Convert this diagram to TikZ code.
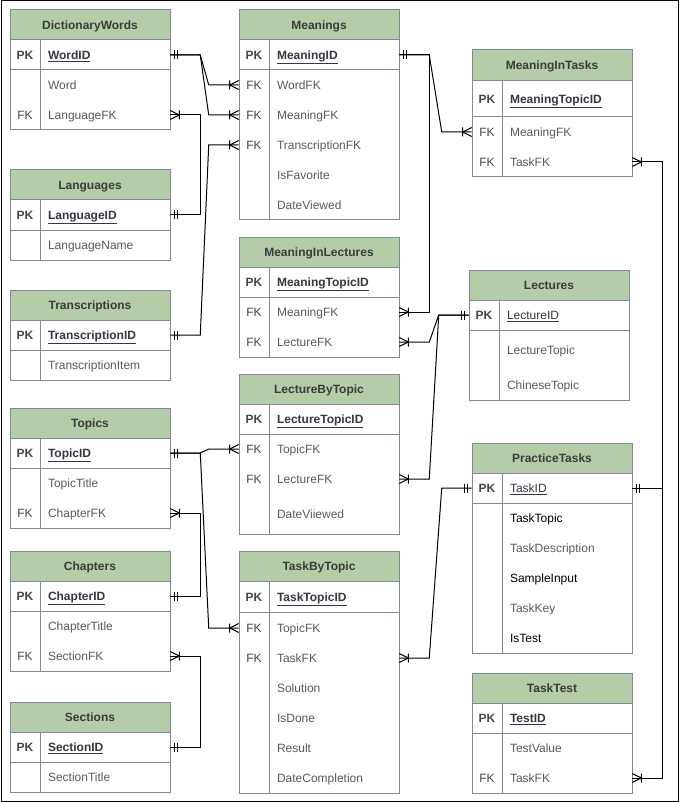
\documentclass[tikz,border=0pt]{standalone}
\usepackage{fontspec}
\setmainfont{Liberation Sans}
\usetikzlibrary{calc}
\definecolor{hdrfill}{RGB}{180,204,168}
\definecolor{tblline}{RGB}{125,138,152}
\definecolor{hdrc}{RGB}{60,60,60}
\definecolor{keyc}{RGB}{70,70,70}
\definecolor{namec}{RGB}{55,55,65}
\definecolor{fieldc}{RGB}{90,90,90}
\tikzset{
  tbl/.style={draw=tblline, line width=0.75pt},
  hdrtxt/.style={font=\fontsize{9}{11}\selectfont\bfseries, text=hdrc, inner sep=0pt, text height=6.5pt, text depth=0pt},
  fld/.style={minimum width=120pt, minimum height=22.5pt, text width=120pt, inner sep=0pt, align=left, font=\fontsize{9}{11}\selectfont, text=fieldc, text height=6.5pt, text depth=0pt},
  conn/.style={draw=black, line width=0.75pt},
  crowE/.pic={\draw[conn] (0,-4.5) -- (9,0) -- (0,4.5) (9,-4.5) -- (9,4.5);},
  crowW/.pic={\draw[conn] (0,-4.5) -- (-9,0) -- (0,4.5) (-9,-4.5) -- (-9,4.5);},
  barsE/.pic={\draw[conn] (4,-4.5) -- (4,4.5) (7,-4.5) -- (7,4.5);},
  barsW/.pic={\draw[conn] (-4,-4.5) -- (-4,4.5) (-7,-4.5) -- (-7,4.5);}
}
% #1 name, #2 left x, #3 top, #4 header bottom, #5 bottom, #6 title
\newcommand\ertable[6]{%
  \fill[hdrfill] (#2,#3) rectangle (#2+160,#4);
  \draw[tbl] (#2,#3) rectangle (#2+160,#5);
  \draw[tbl] (#2,#4) -- (#2+160,#4);
  \draw[tbl] (#2+30,#4) -- (#2+30,#5);
  \node[hdrtxt] (#1) at (#2+80,{(#3+#4)/2}) {#6};
}
\newcommand\erdiv[2]{\draw[tbl] (#1,#2) -- (#1+160,#2);}
% #1 node name, #2 left x, #3 center y, #4 text
\newcommand\pkrow[4]{\node[fld] (#1) at (#2+80,#3) {\makebox[22.5pt]{\textcolor{keyc}{\bfseries PK}}\hspace{6pt}\textcolor{namec}{\bfseries\underline{#4}}};}
\newcommand\pkrowL[4]{\node[fld] (#1) at (#2+80,#3) {\makebox[22.5pt]{\textcolor{keyc}{\bfseries PK}}\hspace{6pt}\textcolor{namec}{\underline{#4}}};}
\newcommand\fkrow[4]{\node[fld] (#1) at (#2+80,#3) {\makebox[22.5pt]{\textcolor{keyc}{FK}}\hspace{6pt}#4};}
\newcommand\plainrow[4]{\node[fld] (#1) at (#2+80,#3) {\makebox[22.5pt]{}\hspace{6pt}#4};}
\newcommand\blackrow[4]{\node[fld] (#1) at (#2+80,#3) {\makebox[22.5pt]{}\hspace{6pt}\textcolor{black}{#4}};}
\begin{document}
\begin{tikzpicture}[x=0.75pt,y=-0.75pt]
\useasboundingbox (0,0) rectangle (679,802);
\fill[white] (0,0) rectangle (679,802);
\draw[black, line width=0.75pt] (1,1) rectangle (678,801);

% ---------- left column ----------
\ertable{dw}{10}{10}{40}{130}{DictionaryWords}
\erdiv{10}{70}
\pkrow{dwWordID}{10}{55}{WordID}
\plainrow{dwWord}{10}{85}{Word}
\fkrow{dwLanguageFK}{10}{115}{LanguageFK}

\ertable{lg}{10}{170}{200}{260}{Languages}
\erdiv{10}{230}
\pkrow{lgLanguageID}{10}{215}{LanguageID}
\plainrow{lgLanguageName}{10}{245}{LanguageName}

\ertable{tr}{10}{290}{320}{380}{Transcriptions}
\erdiv{10}{350}
\pkrow{trTranscriptionID}{10}{335}{TranscriptionID}
\plainrow{trTranscriptionItem}{10}{365}{TranscriptionItem}

\ertable{tp}{10}{408}{438}{528}{Topics}
\erdiv{10}{468}
\pkrow{tpTopicID}{10}{453}{TopicID}
\plainrow{tpTopicTitle}{10}{483}{TopicTitle}
\fkrow{tpChapterFK}{10}{513}{ChapterFK}

\ertable{ch}{10}{551}{581}{671}{Chapters}
\erdiv{10}{611}
\pkrow{chChapterID}{10}{596}{ChapterID}
\plainrow{chChapterTitle}{10}{626}{ChapterTitle}
\fkrow{chSectionFK}{10}{656}{SectionFK}

\ertable{sc}{10}{702}{732}{792}{Sections}
\erdiv{10}{762}
\pkrow{scSectionID}{10}{747}{SectionID}
\plainrow{scSectionTitle}{10}{777}{SectionTitle}

% ---------- middle column ----------
\ertable{mn}{239}{10}{40}{220}{Meanings}
\erdiv{239}{70}
\pkrow{mnMeaningID}{239}{55}{MeaningID}
\fkrow{mnWordFK}{239}{85}{WordFK}
\fkrow{mnMeaningFK}{239}{115}{MeaningFK}
\fkrow{mnTranscriptionFK}{239}{145}{TranscriptionFK}
\plainrow{mnIsFavorite}{239}{175}{IsFavorite}
\plainrow{mnDateViewed}{239}{205}{DateViewed}

\ertable{ml}{239}{237}{267}{357}{MeaningInLectures}
\erdiv{239}{297}
\pkrow{mlMeaningTopicID}{239}{282}{MeaningTopicID}
\fkrow{mlMeaningFK}{239}{312}{MeaningFK}
\fkrow{mlLectureFK}{239}{342}{LectureFK}

\ertable{lb}{239}{374}{404}{534}{LectureByTopic}
\erdiv{239}{434}
\pkrow{lbLectureTopicID}{239}{419}{LectureTopicID}
\fkrow{lbTopicFK}{239}{449}{TopicFK}
\fkrow{lbLectureFK}{239}{479}{LectureFK}
\plainrow{lbDateViiewed}{239}{514}{DateViiewed}

\ertable{tt}{239}{551}{581}{793}{TaskByTopic}
\erdiv{239}{612}
\pkrow{ttTaskTopicID}{239}{597}{TaskTopicID}
\fkrow{ttTopicFK}{239}{628}{TopicFK}
\fkrow{ttTaskFK}{239}{658}{TaskFK}
\plainrow{ttSolution}{239}{688}{Solution}
\plainrow{ttIsDone}{239}{718}{IsDone}
\plainrow{ttResult}{239}{748}{Result}
\plainrow{ttDateCompletion}{239}{778}{DateCompletion}

% ---------- right column ----------
\ertable{mt}{472}{50}{81}{177}{MeaningInTasks}
\erdiv{472}{117}
\pkrow{mtMeaningTopicID}{472}{99}{MeaningTopicID}
\fkrow{mtMeaningFK}{472}{132}{MeaningFK}
\fkrow{mtTaskFK}{472}{162}{TaskFK}

\ertable{le}{469}{270}{300}{400}{Lectures}
\erdiv{469}{330}
\pkrowL{leLectureID}{469}{315}{LectureID}
\plainrow{leLectureTopic}{469}{350}{LectureTopic}
\plainrow{leChineseTopic}{469}{385}{ChineseTopic}

\ertable{pt}{472}{443}{473}{653}{PracticeTasks}
\erdiv{472}{503}
\pkrowL{ptTaskID}{472}{488}{TaskID}
\blackrow{ptTaskTopic}{472}{518}{TaskTopic}
\plainrow{ptTaskDescription}{472}{548}{TaskDescription}
\blackrow{ptSampleInput}{472}{578}{SampleInput}
\plainrow{ptTaskKey}{472}{608}{TaskKey}
\blackrow{ptIsTest}{472}{638}{IsTest}

\ertable{ts}{472}{673}{703}{793}{TaskTest}
\erdiv{472}{733}
\pkrow{tsTestID}{472}{718}{TestID}
\plainrow{tsTestValue}{472}{748}{TestValue}
\fkrow{tsTaskFK}{472}{778}{TaskFK}

% ---------- connectors ----------
\draw[conn] (dwWordID.east) -- ++(30,0) -- ($(mnWordFK.west)+(-30,0)$) -- (mnWordFK.west);
\draw[conn] (dwWordID.east) -- ++(30,0) -- ($(mnMeaningFK.west)+(-30,0)$) -- (mnMeaningFK.west);
\draw[conn] (lgLanguageID.east) -- ++(30,0) |- (dwLanguageFK.east);
\draw[conn] (trTranscriptionID.east) -- ++(30,0) -- ($(mnTranscriptionFK.west)+(-30,0)$) -- (mnTranscriptionFK.west);
\draw[conn] (mnMeaningID.east) -- ++(30,0) -- ($(mtMeaningFK.west)+(-30,0)$) -- (mtMeaningFK.west);
\draw[conn] (mnMeaningID.east) -- ++(30,0) |- (mlMeaningFK.east);
\draw[conn] (leLectureID.west) -- ++(-30,0) -- ($(mlLectureFK.east)+(30,0)$) -- (mlLectureFK.east);
\draw[conn] (leLectureID.west) -- ++(-30,0) -- ($(lbLectureFK.east)+(30,0)$) -- (lbLectureFK.east);
\draw[conn] (tpTopicID.east) -- ++(30,0) -- ($(lbTopicFK.west)+(-30,0)$) -- (lbTopicFK.west);
\draw[conn] (tpTopicID.east) -- ++(30,0) -- ($(ttTopicFK.west)+(-30,0)$) -- (ttTopicFK.west);
\draw[conn] (chChapterID.east) -- ++(30,0) |- (tpChapterFK.east);
\draw[conn] (scSectionID.east) -- ++(30,0) |- (chSectionFK.east);
\draw[conn] (ptTaskID.west) -- ++(-30,0) -- ($(ttTaskFK.east)+(30,0)$) -- (ttTaskFK.east);
\draw[conn] (ptTaskID.east) -- ++(30,0) |- (mtTaskFK.east);
\draw[conn] (ptTaskID.east) -- ++(30,0) |- (tsTaskFK.east);

% ---------- end marks ----------
\path (dwWordID.east) pic {barsE};
\path (lgLanguageID.east) pic {barsE};
\path (trTranscriptionID.east) pic {barsE};
\path (mnMeaningID.east) pic {barsE};
\path (tpTopicID.east) pic {barsE};
\path (chChapterID.east) pic {barsE};
\path (scSectionID.east) pic {barsE};
\path (ptTaskID.east) pic {barsE};
\path (leLectureID.west) pic {barsW};
\path (ptTaskID.west) pic {barsW};

\path (mnWordFK.west) pic {crowW};
\path (mnMeaningFK.west) pic {crowW};
\path (mnTranscriptionFK.west) pic {crowW};
\path (mtMeaningFK.west) pic {crowW};
\path (lbTopicFK.west) pic {crowW};
\path (ttTopicFK.west) pic {crowW};
\path (dwLanguageFK.east) pic {crowE};
\path (mlMeaningFK.east) pic {crowE};
\path (mlLectureFK.east) pic {crowE};
\path (lbLectureFK.east) pic {crowE};
\path (tpChapterFK.east) pic {crowE};
\path (chSectionFK.east) pic {crowE};
\path (ttTaskFK.east) pic {crowE};
\path (mtTaskFK.east) pic {crowE};
\path (tsTaskFK.east) pic {crowE};
\end{tikzpicture}
\end{document}
